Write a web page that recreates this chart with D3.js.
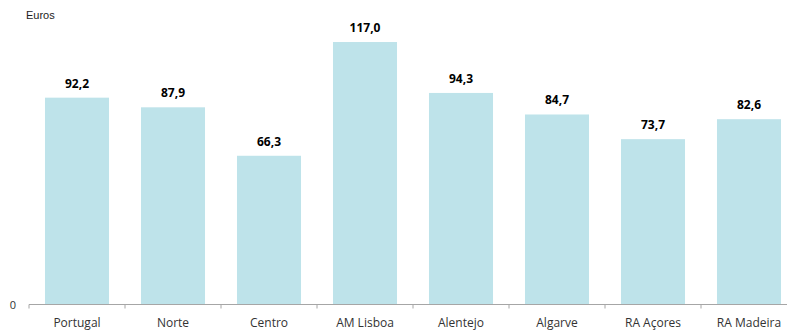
<!DOCTYPE html>
<html><head><meta charset="utf-8">
<script src="https://cdn.jsdelivr.net/npm/d3@7"></script>
<style>body{margin:0;background:#fff}svg{display:block}</style>
</head><body><div id="c"></div>
<script>
const categories = ["Portugal","Norte","Centro","AM Lisboa","Alentejo","Algarve","RA Açores","RA Madeira"];
const values = [92.2,87.9,66.3,117.0,94.3,84.7,73.7,82.6];
const yTicks = [0];
const unitLabel = "Euros";

const W = 787, H = 331;
const svg = d3.select("#c").append("svg").attr("width", W).attr("height", H);
const x = d3.scaleBand().domain(categories).range([29, 797]).paddingInner(0.333).paddingOuter(0.1665);
const y = d3.scaleLinear().domain([0, 120]).range([304.5, 35.3]);

svg.selectAll("rect.bar").data(values).join("rect")
  .attr("x", (d,i) => x(categories[i]))
  .attr("width", x.bandwidth())
  .attr("y", d => y(d))
  .attr("height", d => y(0) - y(d))
  .attr("fill", "#BEE3EA");

svg.selectAll("text.val").data(values).join("text")
  .attr("x", (d,i) => x(categories[i]) + x.bandwidth()/2)
  .attr("y", d => y(d) - 10)
  .attr("text-anchor", "middle")
  .attr("font-family", "Open Sans, sans-serif")
  .attr("font-weight", "bold")
  .attr("font-size", 12)
  .attr("fill", "#000")
  .text(d => d.toFixed(1).replace(".", ","));

// x axis
const xAxis = d3.axisBottom(x).tickSize(4).tickSizeOuter(0);
const gx = svg.append("g").attr("transform", "translate(0,304.5)");
gx.append("line").attr("x1", 29).attr("x2", 787).attr("stroke", "#A6A6A6");
const step = x.step();
gx.selectAll("line.tk").data(categories).join("line")
  .attr("x1", (d,i) => 29 + i*step).attr("x2", (d,i) => 29 + i*step)
  .attr("y1", 0).attr("y2", 4).attr("stroke", "#A6A6A6");
gx.selectAll("text.cat").data(categories).join("text")
  .attr("x", d => x(d) + x.bandwidth()/2)
  .attr("y", 22)
  .attr("text-anchor", "middle")
  .attr("font-family", "Open Sans, sans-serif")
  .attr("font-size", 12)
  .attr("fill", "#333")
  .text(d => d);

svg.selectAll("text.yt").data(yTicks).join("text")
  .attr("x", 16).attr("y", d => y(d) + 4)
  .attr("text-anchor", "end")
  .attr("font-family", "Open Sans, sans-serif")
  .attr("font-size", 11).attr("fill", "#333")
  .text(d => d);

svg.append("text").attr("x", 26).attr("y", 19)
  .attr("font-family", "Liberation Sans, Arial, sans-serif")
  .attr("font-size", 11).attr("fill", "#222").text(unitLabel);
</script></body></html>
